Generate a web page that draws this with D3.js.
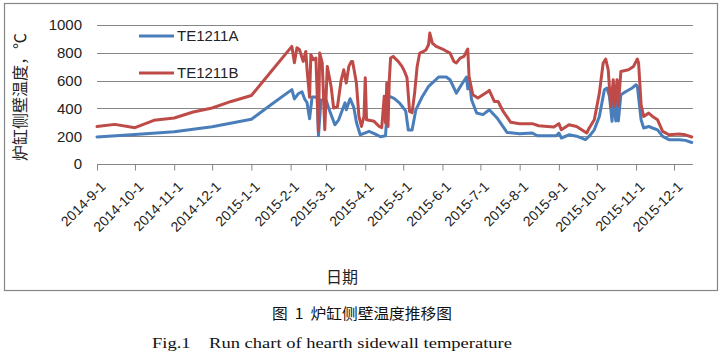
<!DOCTYPE html>
<html>
<head>
<meta charset="utf-8">
<script src="https://cdn.jsdelivr.net/npm/d3@7"></script>
<style>
  html, body { margin: 0; padding: 0; background: #fff; }
  svg { display: block; }
</style>
</head>
<body>
<svg id="chart" width="723" height="354"></svg>
<script>
// ---- Data ----
const tickLabels = ["2014-9-1","2014-10-1","2014-11-1","2014-12-1","2015-1-1","2015-2-1","2015-3-1","2015-4-1","2015-5-1","2015-6-1","2015-7-1","2015-8-1","2015-9-1","2015-10-1","2015-11-1","2015-12-1"];
const yTicks = [0, 200, 400, 600, 800, 1000];
const seriesNames = ["TE1211A", "TE1211B"];

const datesA = ["2014-9-1","2014-10-1","2014-11-1","2014-12-1","2015-1-1","2015-1-17","2015-2-2","2015-2-4","2015-2-7","2015-2-10","2015-2-12","2015-2-14","2015-2-16","2015-2-18","2015-2-21","2015-2-22","2015-2-23","2015-2-25","2015-3-1","2015-3-4","2015-3-8","2015-3-11","2015-3-16","2015-3-17","2015-3-20","2015-3-23","2015-3-25","2015-3-28","2015-4-4","2015-4-9","2015-4-13","2015-4-17","2015-4-19","2015-4-21","2015-4-24","2015-4-28","2015-5-1","2015-5-3","2015-5-5","2015-5-8","2015-5-11","2015-5-16","2015-5-21","2015-5-26","2015-5-29","2015-6-4","2015-6-7","2015-6-12","2015-6-16","2015-6-20","2015-6-21","2015-6-22","2015-6-24","2015-6-28","2015-7-3","2015-7-8","2015-7-14","2015-7-22","2015-8-1","2015-8-11","2015-8-15","2015-8-30","2015-9-1","2015-9-3","2015-9-9","2015-9-15","2015-9-22","2015-9-25","2015-9-29","2015-10-3","2015-10-7","2015-10-9","2015-10-11","2015-10-13","2015-10-14","2015-10-16","2015-10-17","2015-10-18","2015-10-20","2015-10-24","2015-10-29","2015-11-1","2015-11-2","2015-11-5","2015-11-7","2015-11-11","2015-11-14","2015-11-18","2015-11-22","2015-11-27","2015-12-5","2015-12-10","2015-12-15"];
const valuesA = [195,213,232,268,322,430,535,468,505,520,470,440,326,482,482,470,203,460,460,380,282,318,440,390,470,405,300,210,235,215,196,203,480,484,470,440,405,380,245,245,390,484,558,600,626,626,606,510,570,626,540,620,462,367,355,390,333,227,218,223,203,203,223,187,210,200,175,200,246,342,535,547,487,307,462,310,487,310,498,522,547,570,560,318,259,270,259,246,199,175,175,170,155];

const datesB = ["2014-9-1","2014-9-15","2014-10-1","2014-10-16","2014-11-1","2014-11-16","2014-12-1","2014-12-16","2015-1-1","2015-1-15","2015-2-2","2015-2-4","2015-2-6","2015-2-8","2015-2-11","2015-2-13","2015-2-14","2015-2-16","2015-2-17","2015-2-19","2015-2-21","2015-2-23","2015-2-24","2015-2-26","2015-2-28","2015-3-2","2015-3-5","2015-3-7","2015-3-10","2015-3-13","2015-3-15","2015-3-17","2015-3-19","2015-3-21","2015-3-22","2015-3-25","2015-3-27","2015-3-29","2015-3-31","2015-4-1","2015-4-2","2015-4-8","2015-4-12","2015-4-14","2015-4-16","2015-4-17","2015-4-18","2015-4-19","2015-4-20","2015-4-21","2015-4-23","2015-4-27","2015-4-30","2015-5-2","2015-5-4","2015-5-6","2015-5-8","2015-5-10","2015-5-12","2015-5-14","2015-5-17","2015-5-19","2015-5-21","2015-5-22","2015-5-24","2015-5-27","2015-6-2","2015-6-7","2015-6-10","2015-6-12","2015-6-15","2015-6-18","2015-6-21","2015-6-22","2015-6-25","2015-6-29","2015-7-3","2015-7-7","2015-7-8","2015-7-12","2015-7-15","2015-7-19","2015-7-25","2015-8-1","2015-8-11","2015-8-16","2015-8-28","2015-9-1","2015-9-3","2015-9-9","2015-9-15","2015-9-23","2015-9-25","2015-9-29","2015-10-3","2015-10-6","2015-10-8","2015-10-10","2015-10-12","2015-10-14","2015-10-15","2015-10-17","2015-10-18","2015-10-20","2015-10-26","2015-10-30","2015-11-2","2015-11-3","2015-11-5","2015-11-7","2015-11-11","2015-11-14","2015-11-18","2015-11-22","2015-11-27","2015-12-5","2015-12-10","2015-12-15"];
const valuesB = [270,285,261,314,331,374,403,450,493,647,846,728,837,822,738,810,678,480,786,750,762,240,798,727,246,702,558,403,412,606,678,582,702,738,738,582,342,270,342,620,318,307,270,262,487,295,582,270,606,762,774,738,702,666,620,378,370,510,702,798,810,822,858,942,870,846,822,798,738,727,762,774,827,630,498,475,498,522,530,450,450,378,300,290,290,275,266,290,246,282,270,223,259,318,510,727,755,678,414,606,414,606,420,666,678,702,755,727,426,342,366,342,318,235,210,215,210,194];

// ---- Setup ----
const parse = d3.timeParse("%Y-%-m-%-d");
const svg = d3.select("#chart");
const W = 723, H = 354;
const plot = { left: 97, right: 693, top: 25, bottom: 164 };
const gray = "#868686";
const colors = ["#4A7EBB", "#BE4B48"];

svg.append("rect").attr("width", W).attr("height", H).attr("fill", "#fff");
svg.append("rect").attr("x", 4.5).attr("y", 3.5).attr("width", 713).attr("height", 287)
  .attr("fill", "none").attr("stroke", gray).attr("stroke-width", 1.2);

const x = d3.scaleTime()
  .domain([parse("2014-9-1"), parse("2015-12-16")])
  .range([plot.left, plot.right]);
const y = d3.scaleLinear().domain([0, 1000]).range([plot.bottom, plot.top]);

// gridlines
svg.append("g").selectAll("line").data(yTicks.filter(d => d > 0)).join("line")
  .attr("x1", plot.left).attr("x2", plot.right)
  .attr("y1", d => Math.round(y(d)) + 0.5).attr("y2", d => Math.round(y(d)) + 0.5)
  .attr("stroke", gray).attr("stroke-width", 1);

// y labels
const yAxis = d3.axisLeft(y).tickValues(yTicks).tickFormat(d3.format("d")).tickSize(0).tickPadding(15);
const gy = svg.append("g").attr("transform", `translate(${plot.left},0)`).call(yAxis);
gy.select(".domain").remove();
gy.selectAll("text").attr("font-family", "'Liberation Sans', Arial, sans-serif")
  .attr("font-size", 15).attr("fill", "#222");

// x axis
const tickDates = tickLabels.map(parse);
const xAxis = d3.axisBottom(x).tickValues(tickDates).tickSize(6)
  .tickFormat((d, i) => tickLabels[i]).tickSizeOuter(0);
const gx = svg.append("g").attr("transform", `translate(0,${Math.round(plot.bottom) + 0.5})`).call(xAxis);
gx.select(".domain").attr("stroke", gray).attr("d", `M${plot.left},0H${plot.right}`);
gx.selectAll(".tick line").attr("stroke", gray);
gx.selectAll("text")
  .attr("font-family", "'Liberation Sans', Arial, sans-serif")
  .attr("font-size", 14).attr("fill", "#222")
  .attr("text-anchor", "end")
  .attr("dy", null)
  .attr("transform", "translate(9,23) rotate(-45)")
  .attr("x", 0).attr("y", 0);

// lines
const line = d3.line().x(d => x(d.date)).y(d => y(d.value));
const series = [
  datesA.map((d, i) => ({ date: parse(d), value: valuesA[i] })),
  datesB.map((d, i) => ({ date: parse(d), value: valuesB[i] }))
];
series.forEach((s, i) => {
  svg.append("path").datum(s).attr("d", line)
    .attr("fill", "none").attr("stroke", colors[i]).attr("stroke-width", 3)
    .attr("stroke-linejoin", "round").attr("stroke-linecap", "round");
});

// legend
const legendY = [36, 73];
seriesNames.forEach((name, i) => {
  svg.append("line").attr("x1", 139).attr("x2", 174).attr("y1", legendY[i]).attr("y2", legendY[i])
    .attr("stroke", colors[i]).attr("stroke-width", 3);
  svg.append("text").attr("x", 177).attr("y", legendY[i]).attr("dy", "0.35em")
    .attr("font-family", "'Liberation Sans', Arial, sans-serif").attr("font-size", 15)
    .attr("fill", "#222").text(name);
});

// axis titles
svg.append("text")
  .attr("transform", "translate(20,97) rotate(-90)")
  .attr("text-anchor", "middle").attr("dy", "0.35em")
  .attr("font-family", "'Noto Sans CJK SC', sans-serif").attr("font-size", 16)
  .attr("fill", "#222").text("炉缸侧壁温度，℃");
svg.append("text")
  .attr("x", 342).attr("y", 277).attr("text-anchor", "middle").attr("dy", "0.35em")
  .attr("font-family", "'Noto Sans CJK SC', sans-serif").attr("font-size", 16)
  .attr("fill", "#222").text("日期");

// captions
svg.append("text")
  .attr("x", 362).attr("y", 314).attr("text-anchor", "middle").attr("dy", "0.35em")
  .attr("font-family", "'Noto Sans CJK SC', sans-serif").attr("font-size", 15)
  .attr("textLength", 180).attr("lengthAdjust", "spacingAndGlyphs")
  .attr("fill", "#111").attr("xml:space", "preserve").text("图  1  炉缸侧壁温度推移图");
svg.append("text")
  .attr("x", 332).attr("y", 343).attr("text-anchor", "middle").attr("dy", "0.35em")
  .attr("font-family", "'Liberation Serif', 'Times New Roman', serif").attr("font-size", 15)
  .attr("textLength", 360).attr("lengthAdjust", "spacingAndGlyphs")
  .attr("fill", "#111").attr("xml:space", "preserve").text("Fig.1    Run chart of hearth sidewall temperature");
</script>
</body>
</html>
